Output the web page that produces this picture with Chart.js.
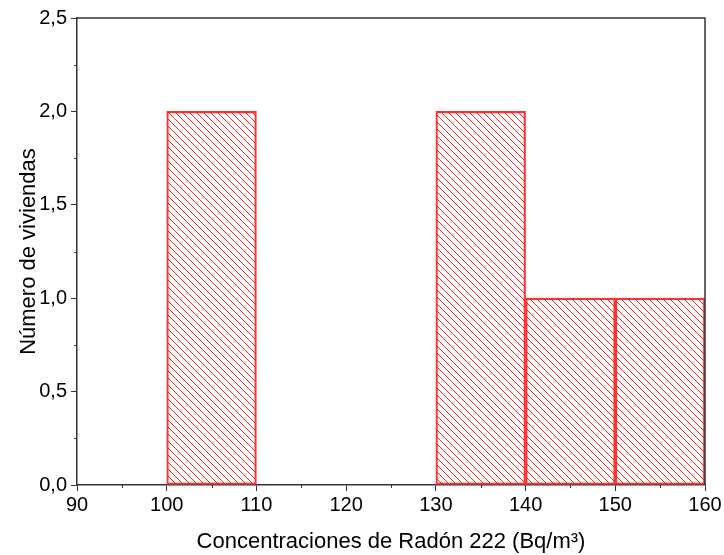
<!DOCTYPE html>
<html>
<head>
<meta charset="utf-8">
<script src="https://cdn.jsdelivr.net/npm/chart.js@4.4.1/dist/chart.umd.min.js"></script>
<style>
  html, body { margin: 0; padding: 0; background: #fff; }
  #wrap { width: 724px; height: 555px; }
</style>
</head>
<body>
<div id="wrap"><canvas id="myChart" width="724" height="555"></canvas></div>
<script>
// histogram bins (left edge) and counts
const binStarts = [100, 110, 120, 130, 140, 150];
const binWidth = 10;
const counts = [2, 0, 0, 2, 1, 1];

const xMin = 90, xMax = 160, xStep = 10;
const yMin = 0, yMax = 2.5, yStep = 0.5;

const xTitle = 'Concentraciones de Radón 222 (Bq/m³)';
const yTitle = 'Número de viviendas';

// diagonal hatch like the original plot
function makeHatch(color) {
    const s = 7;
    const c = document.createElement('canvas');
    c.width = s; c.height = s;
    const g = c.getContext('2d');
    g.strokeStyle = color;
    g.lineWidth = 1;
    for (let k = -1; k <= 1; k++) {
        g.beginPath();
        g.moveTo(k * s, 0);
        g.lineTo(k * s + s, s);
        g.stroke();
    }
    return g.createPattern(c, 'repeat');
}

const axisColor = '#333';

// minor ticks + top/right frame
const framePlugin = {
    id: 'frame',
    afterDraw(chart) {
        const ctx = chart.ctx;
        const a = chart.chartArea;
        const xs = chart.scales.x, ys = chart.scales.y;
        ctx.save();
        ctx.strokeStyle = axisColor;
        ctx.lineWidth = 1.5;
        ctx.beginPath();
        ctx.moveTo(a.left, a.top);
        ctx.lineTo(a.right, a.top);
        ctx.lineTo(a.right, a.bottom);
        ctx.stroke();
        ctx.lineWidth = 1;
        ctx.beginPath();
        for (let v = xMin + xStep / 2; v < xMax; v += xStep) {
            const px = Math.round(xs.getPixelForValue(v)) + 0.5;
            ctx.moveTo(px, a.bottom);
            ctx.lineTo(px, a.bottom + 3);
        }
        for (let v = yMin + yStep / 2; v < yMax; v += yStep) {
            const py = Math.round(ys.getPixelForValue(v)) + 0.5;
            ctx.moveTo(a.left, py);
            ctx.lineTo(a.left - 3, py);
        }
        ctx.stroke();
        ctx.restore();
    }
};

const ctx = document.getElementById('myChart').getContext('2d');
const hatch = makeHatch('rgba(255,0,0,0.85)');

window.myChart = new Chart(ctx, {
    type: 'bar',
    data: {
        datasets: [{
            data: binStarts.map((b, i) => ({ x: b + binWidth / 2, y: counts[i] })),
            backgroundColor: hatch,
            borderColor: 'rgba(255,50,50,1)',
            borderWidth: (c) => (c.raw && c.raw.y > 0 ? 1.5 : 0),
            borderSkipped: false,
            barPercentage: 1,
            categoryPercentage: 1
        }]
    },
    options: {
        responsive: false,
        animation: false,
        layout: { padding: { left: 0, top: 18, right: 19, bottom: 0 } },
        plugins: { legend: { display: false }, tooltip: { enabled: false } },
        scales: {
            x: {
                type: 'linear',
                min: xMin, max: xMax,
                offset: false,
                afterFit: (s) => { s.height = 70; },
                ticks: {
                    stepSize: xStep,
                    color: '#000',
                    font: { family: 'Liberation Sans, Arial', size: 20 },
                    padding: 2,
                    maxRotation: 0
                },
                grid: { offset: false, drawOnChartArea: false, drawTicks: true, tickLength: 6, color: axisColor, lineWidth: 1 },
                border: { color: axisColor, width: 1.5 },
                title: {
                    display: true, text: xTitle, color: '#000',
                    font: { family: 'Liberation Sans, Arial', size: 22 },
                    padding: { top: 6, bottom: 0 }
                }
            },
            y: {
                min: yMin, max: yMax,
                afterFit: (s) => { s.width = 77; },
                ticks: {
                    stepSize: yStep,
                    color: '#000',
                    font: { family: 'Liberation Sans, Arial', size: 20 },
                    padding: 4,
                    callback: (v) => v.toFixed(1).replace('.', ',')
                },
                grid: { drawOnChartArea: false, drawTicks: true, tickLength: 6, color: axisColor, lineWidth: 1 },
                border: { color: axisColor, width: 1.5 },
                title: {
                    display: true, text: yTitle, color: '#000',
                    font: { family: 'Liberation Sans, Arial', size: 22 },
                    padding: { top: 16, bottom: 0 }
                }
            }
        }
    },
    plugins: [framePlugin]
});
</script>
</body>
</html>
